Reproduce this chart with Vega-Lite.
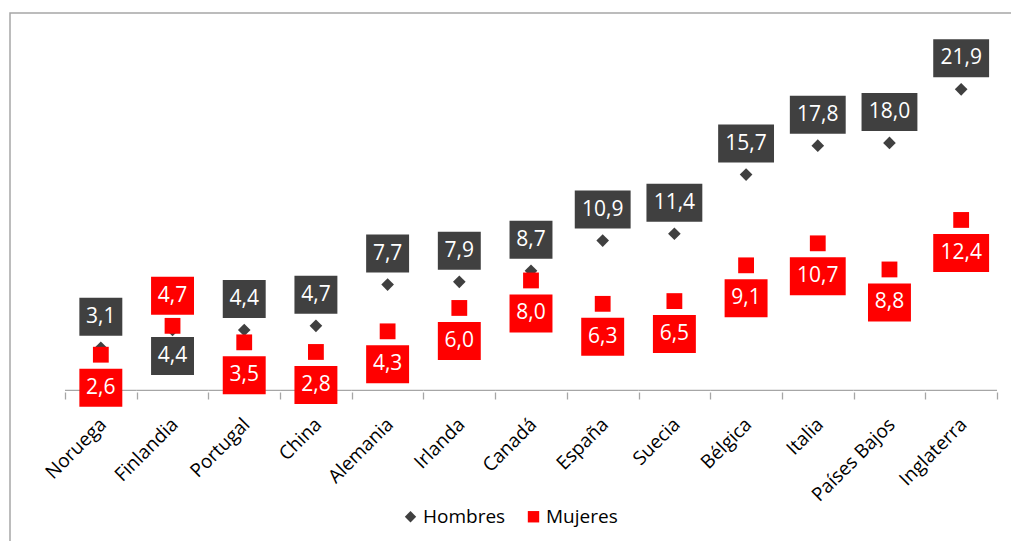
{
  "$schema": "https://vega.github.io/schema/vega-lite/v6.json",
  "width": 1042,
  "height": 540,
  "autosize": "none",
  "padding": {"left": 10, "top": 13, "right": 0, "bottom": 0},
  "config": {
    "font": "Open Sans",
    "view": {"stroke": "#a6a6a6", "strokeWidth": 1.5},
    "locale": {"number": {"decimal": ",", "thousands": ".", "grouping": [3], "currency": ["", " €"]}}
  },
  "data": {
    "values": [
      {"pais": "Noruega", "Hombres": 3.1, "Mujeres": 2.6},
      {"pais": "Finlandia", "Hombres": 4.4, "Mujeres": 4.7},
      {"pais": "Portugal", "Hombres": 4.4, "Mujeres": 3.5},
      {"pais": "China", "Hombres": 4.7, "Mujeres": 2.8},
      {"pais": "Alemania", "Hombres": 7.7, "Mujeres": 4.3},
      {"pais": "Irlanda", "Hombres": 7.9, "Mujeres": 6.0},
      {"pais": "Canadá", "Hombres": 8.7, "Mujeres": 8.0},
      {"pais": "España", "Hombres": 10.9, "Mujeres": 6.3},
      {"pais": "Suecia", "Hombres": 11.4, "Mujeres": 6.5},
      {"pais": "Bélgica", "Hombres": 15.7, "Mujeres": 9.1},
      {"pais": "Italia", "Hombres": 17.8, "Mujeres": 10.7},
      {"pais": "Países Bajos", "Hombres": 18.0, "Mujeres": 8.8},
      {"pais": "Inglaterra", "Hombres": 21.9, "Mujeres": 12.4}
    ]
  },
  "transform": [{"fold": ["Hombres", "Mujeres"], "as": ["serie", "valor"]}],
  "encoding": {
    "x": {
      "field": "pais", "type": "nominal", "sort": null,
      "scale": {"paddingInner": 0, "paddingOuter": 0.767},
      "axis": {
        "title": null, "orient": "bottom", "offset": -161, "domain": false,
        "ticks": true, "tickBand": "extent", "tickColor": "#a6a6a6", "tickSize": 7, "tickWidth": 1.3,
        "labelAngle": -45, "labelAlign": "right", "labelBaseline": "middle",
        "labelFontSize": 19, "labelColor": "#000000", "labelPadding": 22, "labelOffset": 2,
        "labelOverlap": false, "labelBound": false
      }
    },
    "y": {
      "field": "valor", "type": "quantitative",
      "scale": {"domain": [-11.82, 27.45], "nice": false, "zero": false},
      "axis": null
    }
  },
  "layer": [
    {
      "transform": [{"filter": "datum.serie == 'Hombres'"}],
      "mark": {"type": "rule", "color": "#a6a6a6", "strokeWidth": 1.3},
      "encoding": {
        "x": {"field": "pais", "type": "nominal", "sort": null, "bandPosition": 0},
        "x2": {"field": "pais", "bandPosition": 1},
        "y": {"datum": 0}
      }
    },
    {
      "mark": {"type": "point", "filled": true, "opacity": 1},
      "encoding": {
        "shape": {
          "field": "serie", "type": "nominal",
          "scale": {"range": ["diamond", "square"]},
          "legend": {"title": null, "orient": "none", "direction": "horizontal", "legendX": 391, "legendY": 494, "labelFontSize": 19, "labelColor": "#000000", "symbolSize": 130, "columnPadding": 18, "labelOffset": 3, "padding": 0}
        },
        "color": {
          "field": "serie", "type": "nominal",
          "scale": {"range": ["#404040", "#ff0000"]},
          "legend": {"title": null, "orient": "none", "direction": "horizontal", "legendX": 391, "legendY": 494, "labelFontSize": 19, "labelColor": "#000000", "symbolSize": 130, "columnPadding": 18, "labelOffset": 3, "padding": 0}
        },
        "size": {"condition": {"test": "datum.serie == 'Hombres'", "value": 160}, "value": 250}
      }
    },
    {
      "transform": [{"filter": "datum.serie == 'Hombres' && datum.pais != 'Finlandia'"}],
      "layer": [
        {
          "mark": {"type": "point", "filled": true, "opacity": 1, "color": "#404040", "size": 1444, "yOffset": -31, "strokeWidth": 0},
          "encoding": {"shape": {"condition": {"test": "datum.valor >= 10", "value": "M-1.47,-1H1.47V1H-1.47Z"}, "value": "M-1.13,-1H1.13V1H-1.13Z"}}
        },
        {
          "mark": {"type": "text", "color": "#ffffff", "fontSize": 21, "yOffset": -31, "baseline": "middle"},
          "encoding": {"text": {"field": "valor", "type": "quantitative", "format": ".1f"}}
        }
      ]
    },
    {
      "transform": [{"filter": "datum.serie == 'Hombres' && datum.pais == 'Finlandia'"}],
      "layer": [
        {
          "mark": {"type": "point", "filled": true, "opacity": 1, "color": "#404040", "size": 1444, "yOffset": 26, "strokeWidth": 0},
          "encoding": {"shape": {"condition": {"test": "datum.valor >= 10", "value": "M-1.47,-1H1.47V1H-1.47Z"}, "value": "M-1.13,-1H1.13V1H-1.13Z"}}
        },
        {
          "mark": {"type": "text", "color": "#ffffff", "fontSize": 21, "yOffset": 26, "baseline": "middle"},
          "encoding": {"text": {"field": "valor", "type": "quantitative", "format": ".1f"}}
        }
      ]
    },
    {
      "transform": [{"filter": "datum.serie == 'Mujeres' && datum.pais == 'Finlandia'"}],
      "layer": [
        {
          "mark": {"type": "point", "filled": true, "opacity": 1, "color": "#ff0000", "size": 1444, "yOffset": -30, "strokeWidth": 0},
          "encoding": {"shape": {"condition": {"test": "datum.valor >= 10", "value": "M-1.47,-1H1.47V1H-1.47Z"}, "value": "M-1.13,-1H1.13V1H-1.13Z"}}
        },
        {
          "mark": {"type": "text", "color": "#ffffff", "fontSize": 21, "yOffset": -30, "baseline": "middle"},
          "encoding": {"text": {"field": "valor", "type": "quantitative", "format": ".1f"}}
        }
      ]
    },
    {
      "transform": [{"filter": "datum.serie == 'Mujeres' && datum.pais != 'Finlandia'"}],
      "layer": [
        {
          "mark": {"type": "point", "filled": true, "opacity": 1, "color": "#ff0000", "size": 1444, "yOffset": 33, "strokeWidth": 0},
          "encoding": {"shape": {"condition": {"test": "datum.valor >= 10", "value": "M-1.47,-1H1.47V1H-1.47Z"}, "value": "M-1.13,-1H1.13V1H-1.13Z"}}
        },
        {
          "mark": {"type": "text", "color": "#ffffff", "fontSize": 21, "yOffset": 33, "baseline": "middle"},
          "encoding": {"text": {"field": "valor", "type": "quantitative", "format": ".1f"}}
        }
      ]
    }
  ]
}
